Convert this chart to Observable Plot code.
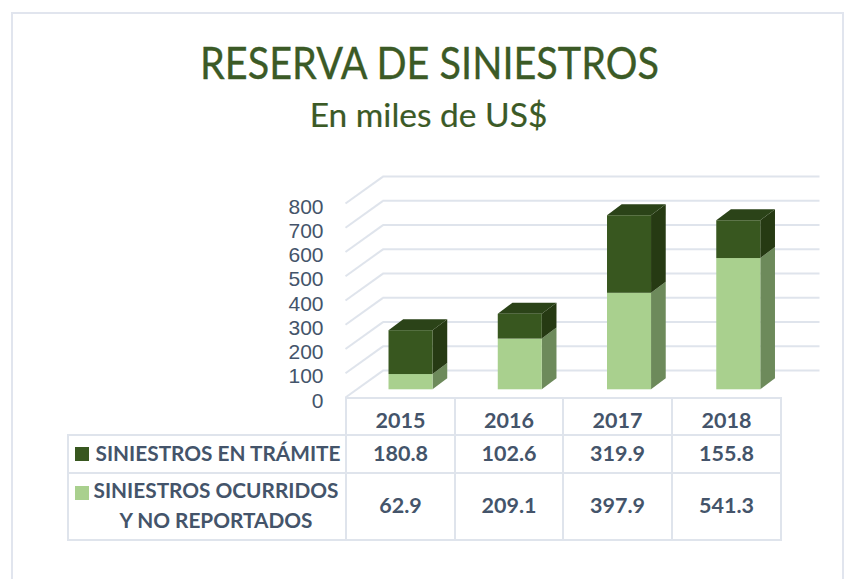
<!DOCTYPE html>
<html><head><meta charset="utf-8">
<script src="https://cdn.jsdelivr.net/npm/d3@7"></script>
<script src="https://cdn.jsdelivr.net/npm/@observablehq/plot@0.6"></script>
<style>
html,body{margin:0;padding:0;background:#fff;width:845px;height:579px;overflow:hidden;font-family:Lato,sans-serif}
#frame{position:absolute;left:11px;top:12px;width:833px;height:580px;border:2px solid #e1e5ee;box-sizing:border-box}
#title,#sub{position:absolute;left:0;width:859px;text-align:center;color:#3b5a26;white-space:nowrap;-webkit-text-stroke:.35px #3b5a26}
#title{top:34px;font-size:45px;line-height:56px;transform:scaleX(.88)}
#sub{top:94px;left:-1px;font-size:33.5px;line-height:40px;-webkit-text-stroke:.2px #3b5a26}
#chart{position:absolute;left:0;top:140px}
#chart svg{background:transparent;overflow:visible}
table{position:absolute;left:67px;top:397px;border-collapse:collapse;table-layout:fixed;color:#44546a;font-weight:700;font-size:21.5px}
td{border:2px solid #dfe4ec;text-align:center;padding:0;position:relative;box-sizing:border-box}
td.blank{border:none}
td.head{padding-top:6px}
td.val{padding-bottom:3px}
td.lab{line-height:30px;padding-left:22px;padding-bottom:3px;font-size:20.8px}
td.lab2{padding-left:18px}
.sw{position:absolute;left:6px;width:14px;height:14px}
</style></head><body>
<div id="frame"></div>
<div id="title">RESERVA DE SINIESTROS</div>
<div id="sub">En miles de US$</div>
<div id="chart"></div>
<table id="tbl"></table>
<script>
const years = ["2015","2016","2017","2018"];
const enTramite = [180.8,102.6,319.9,155.8];
const ocurridos = [62.9,209.1,397.9,541.3];
const ticks = [0,100,200,300,400,500,600,700,800];
const darkName = "SINIESTROS EN TRÁMITE";
const lightName = ["SINIESTROS OCURRIDOS","Y NO REPORTADOS"];

const grid="#dfe4ec", dark="#38571f", darkTop="#2b4318", darkSide="#263a13", light="#a9d08e", lightSide="#6d8a5b";
// oblique projection in data units
const wallX=0.343, wallY=111, barW=0.403, barDX=0.1345, barDY=45.4;
const offs={dx:10.9,dy:-7.7};

const fronts=[],sides=[],tops=[];
years.forEach((yr,i)=>{
  const xl=i+0.5-barW/2, xr=xl+barW, a=ocurridos[i], b=a+enTramite[i];
  fronts.push({x1:xl,x2:xr,y1:0,y2:a,f:light},{x1:xl,x2:xr,y1:a,y2:b,f:dark});
  sides.push({id:yr+"a",f:lightSide,x:xr,y1:0,y2:a},{id:yr+"a",f:lightSide,x:xr+barDX,y1:barDY,y2:a+barDY});
  sides.push({id:yr+"b",f:darkSide,x:xr,y1:a,y2:b},{id:yr+"b",f:darkSide,x:xr+barDX,y1:a+barDY,y2:b+barDY});
  tops.push({id:yr,y:b,x1:xl,x2:xr},{id:yr,y:b+barDY,x1:xl+barDX,x2:xr+barDX});
});

const plot=Plot.plot({
  width:845,height:270,marginLeft:345,marginRight:63,marginTop:63,marginBottom:13,
  x:{domain:[0,4],axis:null},
  y:{domain:[0,800],axis:null},
  marks:[
    Plot.link(ticks,{x1:()=>0,x2:()=>wallX,y1:d=>d,y2:d=>d+wallY,stroke:grid,strokeWidth:2}),
    Plot.ruleY(ticks,{y:d=>d,x1:0,x2:4,dx:37.5,dy:-27,stroke:grid,strokeWidth:2}),
    Plot.axisY(ticks,{anchor:"left",tickSize:0,tickPadding:22,fontSize:21,fontFamily:"Liberation Sans",dy:3.5,color:"#44546a",label:null,tickFormat:d=>String(d),fontWeight:400}),
    Plot.areaY(sides,{x:"x",y1:"y1",y2:"y2",z:"id",fill:"f",...offs}),
    Plot.areaX(tops,{y:"y",x1:"x1",x2:"x2",z:"id",fill:darkTop,...offs}),
    Plot.rect(fronts,{x1:"x1",x2:"x2",y1:"y1",y2:"y2",fill:"f",...offs})
  ]
});
document.getElementById("chart").append(plot);

const widths=[278,109,108,109,109];
const tbl=d3.select("#tbl").style("width",d3.sum(widths)+"px");
tbl.append("colgroup").selectAll("col").data(widths).join("col").style("width",d=>d+"px");
const r0=tbl.append("tr").style("height","37px");
r0.append("td").attr("class","blank");
years.forEach(y=>r0.append("td").attr("class","head").text(y));
const r1=tbl.append("tr").style("height","38px");
const c1=r1.append("td").attr("class","lab");
c1.append("span").attr("class","sw").style("background",dark).style("top","11px");
c1.append("span").text(darkName);
enTramite.forEach(v=>r1.append("td").attr("class","val").text(v.toFixed(1)));
const r2=tbl.append("tr").style("height","67px");
const c2=r2.append("td").attr("class","lab lab2");
c2.append("span").attr("class","sw").style("background",light).style("top","12px");
c2.html(c2.html()+lightName.join("<br>"));
ocurridos.forEach(v=>r2.append("td").attr("class","val").text(v.toFixed(1)));
</script>
</body></html>
